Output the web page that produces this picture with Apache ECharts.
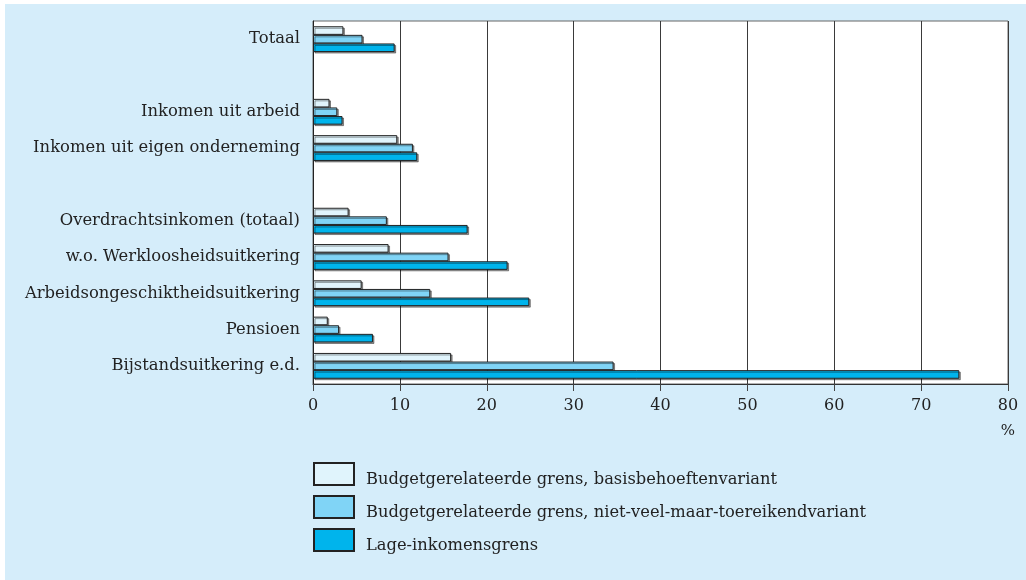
<!DOCTYPE html>
<html>
<head>
<meta charset="utf-8">
<script src="https://cdn.jsdelivr.net/npm/echarts@6/dist/echarts.min.js"></script>
<style>html,body{margin:0;padding:0;background:#fff;}#c{width:1026px;height:580px;}</style>
</head>
<body>
<div id="c"></div>
<script>
const categories = ['Totaal', '', 'Inkomen uit arbeid', 'Inkomen uit eigen onderneming', '', 'Overdrachtsinkomen (totaal)', 'w.o. Werkloosheidsuitkering', 'Arbeidsongeschiktheidsuitkering', 'Pensioen', 'Bijstandsuitkering e.d.'];
const basis = [3.5, null, 1.9, 9.7, null, 4.1, 8.7, 5.6, 1.7, 15.9];
const nietVeel = [5.7, null, 2.8, 11.5, null, 8.5, 15.6, 13.5, 3.0, 34.6];
const lageInkomen = [9.4, null, 3.4, 12.0, null, 17.8, 22.4, 24.9, 6.9, 74.4];
const seriesNames = ['Budgetgerelateerde grens, basisbehoeftenvariant', 'Budgetgerelateerde grens, niet-veel-maar-toereikendvariant', 'Lage-inkomensgrens'];
const xTicks = [0, 10, 20, 30, 40, 50, 60, 70, 80];

const font = 'DejaVu Serif';
const colors = ['#e0f4fc', '#80d4f6', '#00b4ec'];
function mk(name, data, color) {
  return {
    name: name, type: 'bar', data: data, barWidth: 8.6, barGap: '0%',
    itemStyle: { color: color, borderColor: '#222', borderWidth: 1,
      shadowColor: 'rgba(0,0,0,0.4)', shadowOffsetX: 1.5, shadowOffsetY: 1.5, shadowBlur: 0 }
  };
}
const chart = echarts.init(document.getElementById('c'));
chart.setOption({
  backgroundColor: '#ffffff',
  animation: false,
  graphic: [{ type: 'rect', shape: { x: 5, y: 4, width: 1021, height: 576 }, style: { fill: '#d5edfa' }, z: -10 }],
  grid: { left: 313, right: 18, top: 21, bottom: 196, backgroundColor: '#ffffff', show: true, borderColor: '#666', borderWidth: 1 },
  xAxis: {
    type: 'value', min: 0, max: 80, interval: 10,
    axisLine: { show: true, lineStyle: { color: '#333' } },
    axisTick: { show: true, length: 7, lineStyle: { color: '#444' } },
    splitLine: { show: true, lineStyle: { color: '#3a3a3a', width: 1 } },
    axisLabel: { fontFamily: font, fontSize: 16, color: '#222', margin: 14,
      formatter: v => xTicks.indexOf(v) >= 0 ? String(v) : '' },
    name: '%', nameLocation: 'end', nameGap: 0,
    nameTextStyle: { fontFamily: font, fontSize: 15, color: '#222', align: 'center', verticalAlign: 'top', padding: [40, 0, 0, 0] }
  },
  yAxis: {
    type: 'category', data: categories, inverse: true,
    axisLine: { show: true, lineStyle: { color: '#222' } },
    axisTick: { show: false },
    axisLabel: { fontFamily: font, fontSize: 16.4, color: '#222', margin: 13, padding: [3, 0, 0, 0] }
  },
  legend: {
    orient: 'vertical', left: 313, top: 462, padding: 0, itemWidth: 40, itemHeight: 22, itemGap: 7,
    icon: 'rect',
    data: seriesNames,
    formatter: n => '{t|' + n + '}',
    textStyle: { fontFamily: font, fontSize: 16.3, color: '#222',
      rich: { t: { fontFamily: font, fontSize: 16.3, color: '#222', padding: [12, 0, 0, 7] } } }
  },
  series: [mk(seriesNames[0], basis, colors[0]), mk(seriesNames[1], nietVeel, colors[1]), mk(seriesNames[2], lageInkomen, colors[2])]
});
</script>
</body>
</html>
